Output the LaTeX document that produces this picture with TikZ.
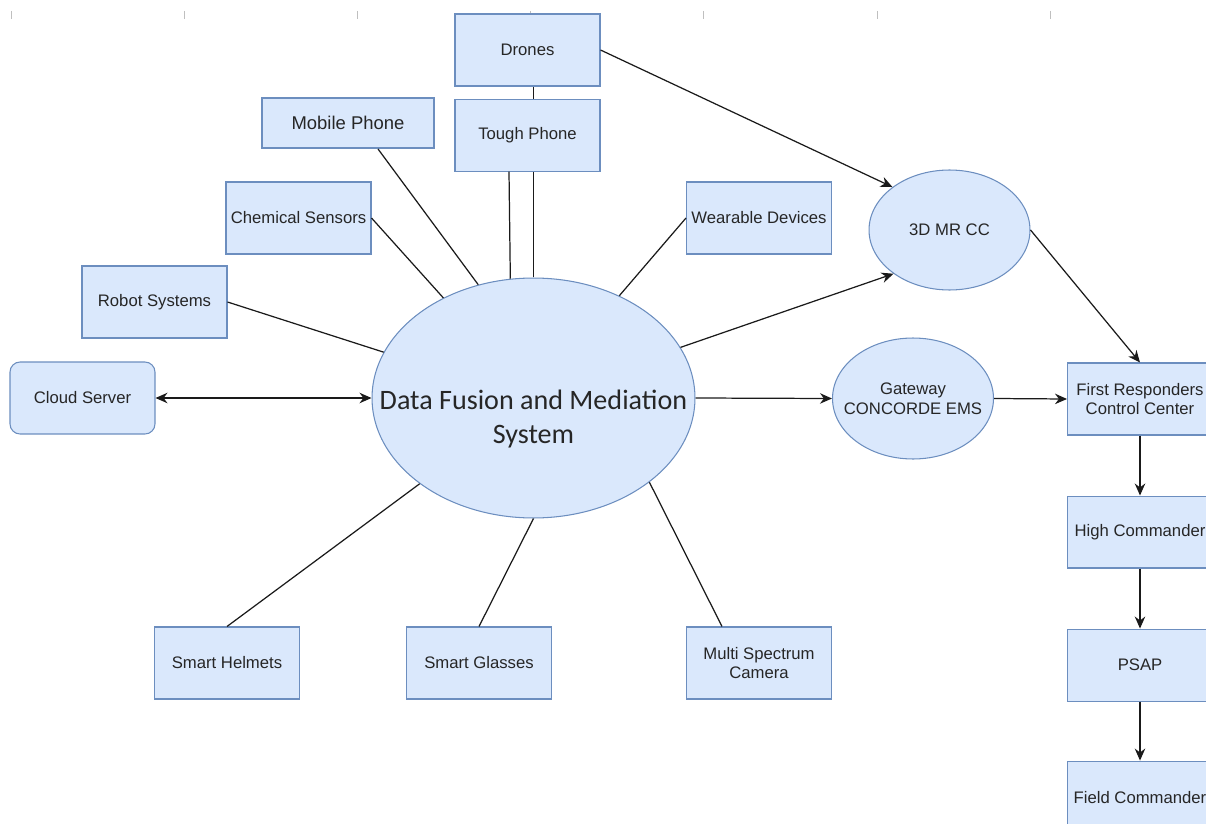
\documentclass[tikz,border=0pt]{standalone}
\usepackage{fontspec}
\setmainfont{Liberation Sans}
\newfontfamily\hubfont{Carlito}
\usepackage{tikz}
\usetikzlibrary{positioning}
\usetikzlibrary{shapes.geometric}
\usetikzlibrary{calc}
\usetikzlibrary{arrows.meta}
\pgfdeclarelayer{wirebg}
\pgfsetlayers{wirebg,main}
\definecolor{boxfill}{HTML}{DAE8FC}
\definecolor{boxline}{HTML}{6C8EBF}
\definecolor{inkline}{HTML}{1A1A1A}

\begin{document}
\begin{tikzpicture}[x=0.02cm,y=-0.02cm,
	dev/.style={draw=boxline,fill=boxfill,line width=0.6pt,minimum width=2.9cm,minimum height=1.44cm,inner sep=1.5pt,align=center,text=black!85,font=\fontsize{9.5}{11.3}\selectfont},
	hub/.style={dev,ellipse,minimum width=3.22cm,minimum height=2.4cm},
	hubtext/.style={font=\fontsize{9.5}{11.3}\selectfont,align=center,text=black!85},
	link/.style={draw=inkline,line width=0.7pt},
	flow/.style={link,-{Stealth[length=2.4mm,width=2.1mm]}}]
	
	\useasboundingbox (0,0) rectangle (1206,824);
	\node[dev] at (527.5,50) (drones) {Drones};
	\node[dev,below=0.24cm of drones] (tough) {Tough Phone};
	\node[dev,minimum width=3.44cm,minimum height=1cm,line width=1.1pt,font=\fontsize{10.5}{12}\selectfont] at (348,123) (mobile) {Mobile Phone};
	\node[dev] at (298.5,218) (chem) {Chemical Sensors};
	\node[dev] at (154.5,302) (robot) {Robot Systems};
	\node[dev,rounded corners=0.2cm] at (82.5,398) (cloud) {Cloud Server};
	\node[dev] at (759,218) (wear) {Wearable Devices};
	\node[hub] at (949.5,230) (mrcc) {3D MR CC};
	\node[hub,minimum width=6.46cm,minimum height=4.8cm,label={[hubtext,font=\hubfont\fontsize{16}{19.8}\selectfont,yshift=-0.42cm]center:{Data Fusion and Mediation\\System}}] at (533.5,398) (dfms) {};
	\node[hub,minimum height=2.42cm,label={[hubtext]center:{Gateway\\CONCORDE EMS}}] at (913,398.5) (gateway) {};
	\node[dev] at (1140,399) (frcc) {First Responders\\Control Center};
	\node[dev,below=1.2cm of frcc] (high) {High Commander};
	\node[dev,below=1.2cm of high] (psap) {PSAP};
	\node[dev,below=1.18cm of psap] (field) {Field Commander};
	\node[dev] at (227,663) (helmets) {Smart Helmets};
	\node[dev,right=2.12cm of helmets] (glasses) {Smart Glasses};
	\node[dev,right=2.68cm of glasses] (camera) {Multi Spectrum\\Camera};
	\begin{pgfonlayer}{wirebg}
	\foreach \tx in {11.5,184.6,357.7,530.8,703.8,876.9,1050} \draw[black!25,line width=0.4pt] (\tx,11) -- (\tx,19);
	\draw[link] (drones.south -| dfms.north) -- (dfms.north);
	\end{pgfonlayer}
	\draw[link] ($(tough.south)+(-18.5,0)$) -- (dfms.101.7);
	\draw[link] ($(mobile.south)+(30,0)$) -- (dfms.116); \draw[link] (chem.east) -- (dfms.132);
	\draw[link] (robot.east) -- (dfms.163); \draw[link] (wear.west) -- (dfms.50);
	\draw[flow,{Stealth[length=2.4mm,width=2.1mm]}-{Stealth[length=2.4mm,width=2.1mm]}] (cloud.east) -- (dfms.west);
	\draw[flow] (drones.east) -- (mrcc.143); \draw[flow] (dfms.19) -- (mrcc.218);
	\draw[flow] (dfms.east) -- (gateway.west); \draw[flow] (gateway.east) -- (frcc.west);
	\draw[flow] (mrcc.east) -- (frcc.north);
	\draw[flow] (frcc.south) -- (high.north); \draw[flow] (high.south) -- (psap.north); \draw[flow] (psap.south) -- (field.north);
	\draw[link] (helmets.north) -- (dfms.217); \draw[link] (glasses.north) -- (dfms.south);
	\draw[link] ($(camera.north)+(-37,0)$) -- (dfms.324);
\end{tikzpicture}
\end{document}
